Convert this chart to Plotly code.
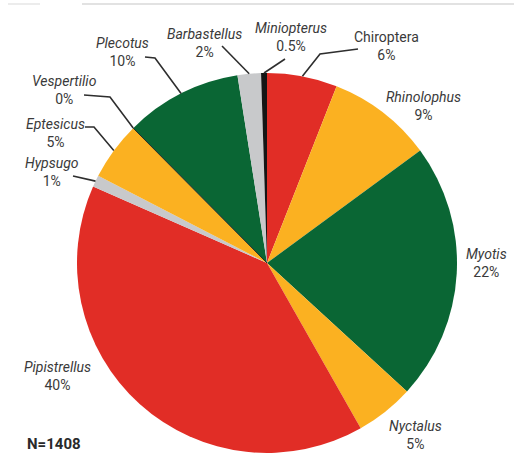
import math
import plotly.graph_objects as go

# Bat genera recorded (share of N=1408 records), clockwise from 12 o'clock
genera = ["Chiroptera", "Rhinolophus", "Myotis", "Nyctalus", "Pipistrellus",
          "Hypsugo", "Eptesicus", "Vespertilio", "Plecotus", "Barbastellus",
          "Miniopterus"]
shares = [6, 9, 22, 5, 40, 1, 5, 0, 10, 2, 0.5]
share_labels = ["6%", "9%", "22%", "5%", "40%", "1%", "5%", "0%", "10%", "2%", "0.5%"]
italic = [False, True, True, True, True, True, True, True, True, True, True]
sample_note = "N=1408"

RED, ORANGE, GREEN, GREY, BLACK = "#e12d26", "#fbb121", "#0a6634", "#c8c9cb", "#151515"
colors = [RED, ORANGE, GREEN, ORANGE, RED, GREY, ORANGE, BLACK, GREEN, GREY, BLACK]

W, H = 521, 455
CX, CY, R = 267, 263, 190          # pie centre / radius in pixels

# label placement (pixel centre of the two-line label) and leader elbows
label_pos = {
    "Chiroptera": (386, 46), "Rhinolophus": (423, 106), "Myotis": (486, 263),
    "Nyctalus": (415, 435), "Pipistrellus": (57, 376), "Hypsugo": (52, 172),
    "Eptesicus": (55, 133), "Vespertilio": (64, 90), "Plecotus": (122, 52),
    "Barbastellus": (204, 43), "Miniopterus": (291, 37),
}
leaders = {
    "Chiroptera": [(358, 49), (320, 54)],
    "Hypsugo": [(73, 176)],
    "Eptesicus": [(85, 127), (94, 127)],
    "Vespertilio": [(84, 95), (110, 97)],
    "Plecotus": [(145, 57), (155, 58)],
    "Barbastellus": [(222, 46)],
    "Miniopterus": [(285, 59)],
}

total = sum(shares)


def rim_point(frac, r=R):
    ang = 2 * math.pi * frac
    return CX + r * math.sin(ang), CY - r * math.cos(ang)


fig = go.Figure()
fig.add_trace(go.Pie(
    labels=genera, values=shares, sort=False, direction="clockwise", rotation=0,
    marker=dict(colors=colors, line=dict(width=0)), textinfo="none",
    hoverinfo="label+percent", showlegend=False,
    domain=dict(x=[(CX - R) / W, (CX + R) / W],
                y=[(H - CY - R) / H, (H - CY + R) / H]),
))

shapes = []
annotations = []
cum = 0.0
for name, val, lab, it in zip(genera, shares, share_labels, italic):
    mid = (cum + val / 2) / total
    start = cum / total
    cum += val
    if name in leaders:
        ex, ey = rim_point(mid)
        pts = leaders[name] + [(ex, ey)]
        path = "M " + " L ".join(f"{x:.1f},{y:.1f}" for x, y in pts)
        shapes.append(dict(type="path", path=path, xref="x", yref="y",
                           line=dict(color="#2e2e2e", width=1.6)))
    if val == 0:
        # zero-share genus drawn as a thin radial stroke
        bx, by = rim_point(start)
        shapes.append(dict(type="line", x0=CX, y0=CY, x1=bx, y1=by, xref="x", yref="y",
                           line=dict(color="#2a2a2a", width=1)))
    tx, ty = label_pos[name]
    txt = f"<i>{name}</i><br>{lab}" if it else f"{name}<br>{lab}"
    annotations.append(dict(x=tx, y=ty, xref="x", yref="y", text=txt, showarrow=False,
                            xanchor="center", yanchor="middle", align="center",
                            font=dict(size=14, color="#3a3a3a")))

annotations.append(dict(x=25, y=444, xref="x", yref="y", text=f"<b>{sample_note}</b>",
                        showarrow=False, xanchor="left", yanchor="middle",
                        font=dict(size=15, color="#2a2a2a")))

# faint rule along the top edge
shapes.append(dict(type="line", x0=82, y0=4, x1=514, y1=4, xref="x", yref="y",
                   line=dict(color="#e2e2e2", width=2)))
shapes.append(dict(type="line", x0=8, y0=4, x1=40, y1=4, xref="x", yref="y",
                   line=dict(color="#ececec", width=2)))

fig.update_layout(
    width=W, height=H, margin=dict(l=0, r=0, t=0, b=0),
    paper_bgcolor="white", plot_bgcolor="white",
    font=dict(family="Roboto, sans-serif"),
    xaxis=dict(range=[0, W], visible=False, fixedrange=True),
    yaxis=dict(range=[H, 0], visible=False, fixedrange=True),
    shapes=shapes, annotations=annotations,
)

fig.write_html("out.html")
